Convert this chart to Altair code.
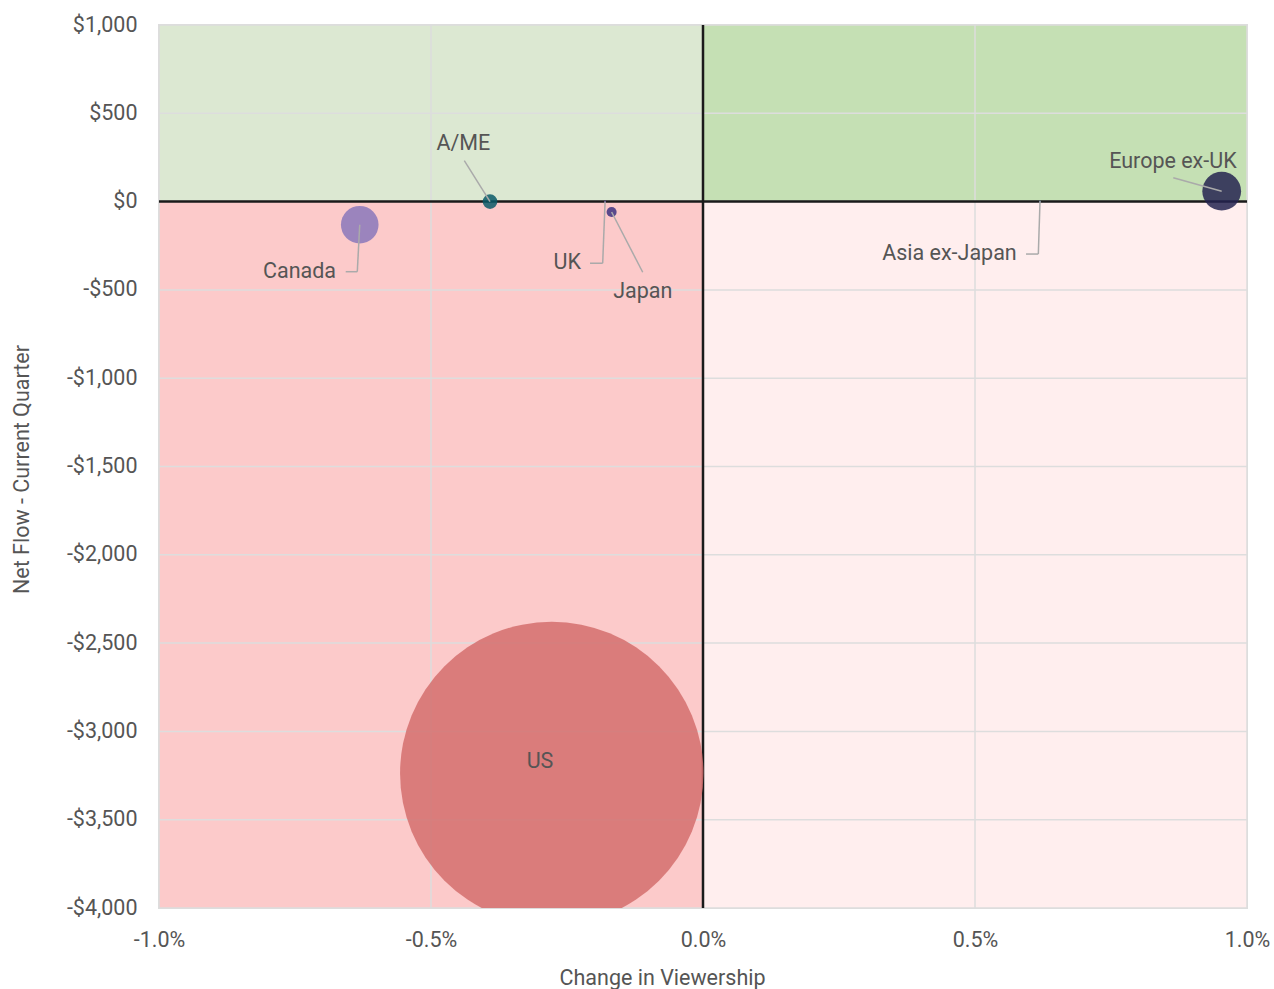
import altair as alt
import pandas as pd

# ---- data ----
regions = ["US", "Canada", "A/ME", "UK", "Japan", "Asia ex-Japan", "Europe ex-UK"]
change_pct = [-0.278, -0.631, -0.3915, -0.180, -0.168, 0.6195, 0.9535]   # Change in Viewership (%)
net_flow = [-3238, -131, 0, 0, -59, 0, 59]                                # Net Flow ($)
bubble_size = [7230, 111, 17, 0.3, 8, 0.3, 118]                           # relative bubble area
bubble_colors = ["#d36f6d", "#8a78bb", "#0b5b69", "#5a4a9c", "#3d3381", "#7890b0", "#242350"]

# label anchors (data units)
label_x = [-0.2996, -0.6746, -0.4406, -0.2243, -0.1108, 0.5767, 0.981]
label_y = [-3175, -397, 326, -349, -514, -297, 226]
label_align = ["center", "right", "center", "right", "center", "right", "right"]

# leader lines (regions other than US): bubble -> elbow -> end
leader_regions = ["Canada", "A/ME", "UK", "Japan", "Asia ex-Japan", "Europe ex-UK"]
elbow_x = [-0.6355, -0.4388, -0.1844, -0.1108, 0.6164, 0.8645]
elbow_y = [-397, 231.6, -349, -400, -297, 135]
end_x = [-0.6568, -0.4388, -0.2077, -0.1108, 0.5938, 0.8645]
end_y = [-397, 231.6, -349, -400, -297, 135]

# quadrants
quad_x = [-1.0, 0.0, -1.0, 0.0]
quad_x2 = [0.0, 1.0, 0.0, 1.0]
quad_y = [0, 0, -4000, -4000]
quad_y2 = [1000, 1000, 0, 0]
quad_colors = ["#dce8d2", "#c5e0b4", "#fccaca", "#ffeeee"]

x_ticks = [-1.0, -0.5, 0.0, 0.5, 1.0]
y_ticks = [-4000, -3500, -3000, -2500, -2000, -1500, -1000, -500, 0, 500, 1000]

FONT = "Roboto"
TXT = "#555555"
FS = 21.5

bubbles = pd.DataFrame({"region": regions, "x": change_pct, "y": net_flow,
                        "size": bubble_size, "color": bubble_colors})
pos = {r: (x, y) for r, x, y in zip(regions, change_pct, net_flow)}
leaders = pd.DataFrame({
    "region": leader_regions,
    "x": [pos[r][0] for r in leader_regions],
    "y": [pos[r][1] for r in leader_regions],
    "ex": elbow_x, "ey": elbow_y, "lx": end_x, "ly": end_y,
})
labels = pd.DataFrame({"region": regions, "x": label_x, "y": label_y, "align": label_align})
quads = pd.DataFrame({"x": quad_x, "x2": quad_x2, "y": quad_y, "y2": quad_y2, "color": quad_colors})
xt = pd.DataFrame({"v": x_ticks})
yt = pd.DataFrame({"v": y_ticks})
zero = pd.DataFrame({"v": [0]})

xscale = alt.Scale(domain=[-1, 1], nice=False, zero=False)
yscale = alt.Scale(domain=[-4000, 1000], nice=False, zero=False)

x_axis = alt.Axis(
    values=x_ticks, grid=False, domain=False, ticks=False, tickSize=0,
    labelExpr="(datum.value < 0 ? '-' : '') + format(abs(datum.value), '.1f') + '%'",
    labelFont=FONT, labelFontSize=FS, labelColor=TXT, labelPadding=21,
    labelBaseline="top", labelFlush=False,
    title="Change in Viewership", titleFont=FONT, titleFontSize=FS, titleColor=TXT,
    titleFontWeight="normal", titleX=503, titleY=70, titleAlign="center", titleBaseline="middle",
)
y_axis = alt.Axis(
    values=y_ticks, grid=False, domain=False, ticks=False, tickSize=0,
    labelExpr="(datum.value < 0 ? '-' : '') + '$' + format(abs(datum.value), ',')",
    labelFont=FONT, labelFontSize=FS, labelColor=TXT, labelPadding=22,
    labelFlush=False,
    title="Net Flow - Current Quarter", titleFont=FONT, titleFontSize=FS, titleColor=TXT,
    titleFontWeight="normal", titleX=-137, titleY=444, titleAngle=270,
    titleAlign="center", titleBaseline="middle",
)

quad_layer = alt.Chart(quads).mark_rect().encode(
    x=alt.X("x:Q", scale=xscale, axis=x_axis),
    x2="x2:Q",
    y=alt.Y("y:Q", scale=yscale, axis=y_axis),
    y2="y2:Q",
    color=alt.Color("color:N", scale=None, legend=None),
)

grid_x = alt.Chart(xt).mark_rule(color="#dddddd", strokeWidth=1.5).encode(x="v:Q")
grid_y = alt.Chart(yt).mark_rule(color="#dddddd", strokeWidth=1.5).encode(y="v:Q")

zero_x = alt.Chart(zero).mark_rule(color="#1a1a1a", strokeWidth=2.5).encode(x="v:Q")
zero_y = alt.Chart(zero).mark_rule(color="#1a1a1a", strokeWidth=2.5).encode(y="v:Q")

# Vega circle symbols: radius = sqrt(size)/2
bubble_layer = alt.Chart(bubbles).mark_circle(opacity=0.85, clip=True).encode(
    x="x:Q", y="y:Q",
    size=alt.Size("size:Q",
                  scale=alt.Scale(type="linear", domain=[0, 7230], range=[0, 92060],
                                  nice=False, zero=True),
                  legend=None),
    color=alt.Color("color:N", scale=None, legend=None),
)

lead1 = alt.Chart(leaders).mark_rule(color="#aaaaaa", strokeWidth=1.5).encode(
    x="x:Q", y="y:Q", x2="ex:Q", y2="ey:Q")
lead2 = alt.Chart(leaders).mark_rule(color="#aaaaaa", strokeWidth=1.5).encode(
    x="ex:Q", y="ey:Q", x2="lx:Q", y2="ly:Q")

text_c = alt.Chart(labels).transform_filter("datum.align == 'center'").mark_text(
    align="center", baseline="middle", font=FONT, fontSize=FS, color=TXT
).encode(x="x:Q", y="y:Q", text="region:N")
text_r = alt.Chart(labels).transform_filter("datum.align == 'right'").mark_text(
    align="right", baseline="middle", font=FONT, fontSize=FS, color=TXT
).encode(x="x:Q", y="y:Q", text="region:N")

chart = alt.layer(
    quad_layer, grid_x, grid_y, zero_x, zero_y, bubble_layer, lead1, lead2, text_c, text_r
).properties(
    width=1088, height=883,
    autosize=alt.AutoSizeParams(type="none"),
    padding={"left": 159, "top": 25, "right": 27, "bottom": 81},
    background="white",
).configure_view(stroke="#dddddd", strokeWidth=2)

chart.save("out.html", embed_options={"renderer": "svg", "actions": False})
